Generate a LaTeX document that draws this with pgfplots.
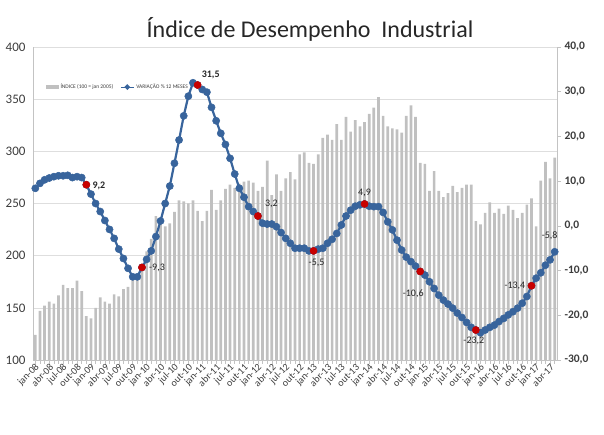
\documentclass[border=0pt]{standalone}
\usepackage{pgfplots}
\pgfplotsset{compat=1.18}
\usepackage{pgfplotstable}
\usepackage{fontspec}
\setmainfont{Carlito}
\definecolor{barg}{RGB}{192,192,192}
\definecolor{lblue}{RGB}{56,100,156}
\definecolor{dred}{RGB}{200,0,0}
\definecolor{gridg}{RGB}{222,222,222}
\definecolor{axg}{RGB}{195,195,195}
\definecolor{txt}{RGB}{60,60,60}

\pgfplotstableread{
x idx var
0 124 8.4
1 147 9.5
2 152 10.3
3 156 10.7
4 154 11.0
5 162 11.2
6 172 11.2
7 169 11.3
8 169 10.8
9 176 11.0
10 166 10.8
11 142 9.2
12 140 7.1
13 150 5.0
14 160 3.2
15 156 1.2
16 154 -0.8
17 163 -2.8
18 161 -5.2
19 168 -7.3
20 170 -9.5
21 178 -11.4
22 182 -11.4
23 190 -9.3
24 204 -7.5
25 216 -5.6
26 238 -2.4
27 231 1.1
28 228 5.0
29 231 8.9
30 242 14.0
31 253 19.2
32 252 24.6
33 250 29.0
34 253 32.0
35 243 31.5
36 233 30.5
37 243 29.9
38 263 26.5
39 244 23.5
40 253 20.7
41 264 18.2
42 268 15.1
43 265 11.6
44 269 8.4
45 271 6.4
46 272 4.3
47 270 3.2
48 262 2.2
49 266 0.6
50 291 0.4
51 258 0.4
52 278 -0.2
53 262 -1.5
54 274 -2.8
55 280 -3.9
56 273 -5.0
57 297 -5.0
58 299 -5.0
59 289 -5.6
60 288 -5.6
61 297 -5.2
62 313 -5.0
63 316 -3.9
64 311 -3.0
65 326 -1.7
66 311 0.2
67 333 2.2
68 319 3.5
69 330 4.4
70 324 4.7
71 328 4.9
72 336 4.4
73 342 4.3
74 352 4.3
75 334 3.0
76 324 0.9
77 322 -0.9
78 321 -3.2
79 318 -5.4
80 334 -7.0
81 344 -8.0
82 333 -9.0
83 289 -10.2
84 288 -11.0
85 262 -12.5
86 281 -14.0
87 262 -15.5
88 256 -16.6
89 260 -17.5
90 267 -18.4
91 261 -19.5
92 265 -20.5
93 268 -21.6
94 268 -22.7
95 233 -23.3
96 230 -23.9
97 241 -23.3
98 251 -22.7
99 241 -22.2
100 245 -21.4
101 240 -20.7
102 248 -19.9
103 244 -19.2
104 236 -18.4
105 241 -17.3
106 249 -15.8
107 255 -13.4
108 228 -11.7
109 272 -10.5
110 290 -8.8
111 274 -7.6
112 294 -5.8
}\data

\pgfplotstableread{
x var
11 9.2
23 -9.3
35 31.5
48 2.2
60 -5.6
71 4.9
83 -10.2
95 -23.3
107 -13.4
}\reddata

\begin{document}
\begin{tikzpicture}
\useasboundingbox (-33pt,-75pt) rectangle (571pt,360pt);
\begin{axis}[
  scale only axis, width=524pt, height=313pt,
  xmin=-0.5, xmax=112.5, ymin=100, ymax=400,
  ytick={100,150,...,400},
  ymajorgrids, grid style={gridg, line width=0.6pt},
  axis x line*=bottom, axis y line*=left,
  axis line style={axg, line width=0.6pt},
  /pgf/number format/assume math mode=true,
  y tick label style={font=\fontsize{13}{13}\selectfont, color=txt},
  xtick={0,3,...,111},
  xticklabels={jan-08,abr-08,jul-08,out-08,jan-09,abr-09,jul-09,out-09,jan-10,abr-10,jul-10,out-10,jan-11,abr-11,jul-11,out-11,jan-12,abr-12,jul-12,out-12,jan-13,abr-13,jul-13,out-13,jan-14,abr-14,jul-14,out-14,jan-15,abr-15,jul-15,out-15,jan-16,abr-16,jul-16,out-16,jan-17,abr-17},
  x tick label style={rotate=45, anchor=east, font=\fontsize{10}{10}\selectfont, color=txt, inner sep=0.5pt, yshift=-3pt, xshift=1pt},
  minor xtick={0,...,112},
  tick style={axg, line width=0.5pt},
  tick align=outside, major tick length=4pt, minor tick length=4pt,
  ytick style={draw=none},
]
\addplot[ybar, bar width=0.58, fill=barg, draw=none] table[x=x, y=idx]{\data};
\end{axis}
\begin{axis}[
  scale only axis, width=524pt, height=313pt,
  xmin=-0.5, xmax=112.5, ymin=-30, ymax=40,
  hide x axis,
  axis y line*=right,
  axis line style={axg, line width=0.6pt},
  ytick={-30,-20,...,40},
  yticklabels={\textbf{-30,0},\textbf{-20,0},\textbf{-10,0},\textbf{0,0},\textbf{10,0},\textbf{20,0},\textbf{30,0},\textbf{40,0}},
  y tick label style={font=\fontsize{11.5}{11.5}\selectfont, color=txt},
  tick style={axg, line width=0.5pt}, tick align=outside, major tick length=4pt,
  legend style={at={(0.019,0.872)}, anchor=west, draw=none, fill=none,
    font=\fontsize{5.5}{5.5}\selectfont, text=txt, legend columns=2,
    /tikz/every even column/.append style={column sep=5pt}},
  legend cell align=left,
]
\addlegendimage{legend image code/.code={\fill[barg] (0pt,-1.6pt) rectangle (12pt,1.6pt);}}
\addlegendentry{ÍNDICE (100 = jan 2005)}
\addplot[lblue, line width=2.2pt, mark=*, mark size=3.6pt, mark options={fill=lblue, draw=lblue, line width=0.5pt},
  legend image code/.code={\draw[lblue, line width=1pt] (0pt,0pt) -- (13pt,0pt); \fill[lblue] (6.5pt,0pt) circle (1.4pt);}]
  table[x=x, y=var]{\data};
\addlegendentry{VARIAÇÃO \% 12 MESES}
\addplot[only marks, mark=*, mark size=3.6pt, mark options={fill=dred, draw=dred}, forget plot] table[x=x, y=var]{\reddata};
\begin{scope}[every node/.style={font=\fontsize{10}{10}\selectfont, text=black!85, inner sep=1pt}]
\node[anchor=west, xshift=5pt, yshift=-1pt] at (axis cs:11,9.2) {\textbf{9,2}};
\node[anchor=west, xshift=6pt] at (axis cs:23,-9.3) {-9,3};
\node[anchor=west, xshift=3pt, yshift=10pt] at (axis cs:35,31.5) {\textbf{31,5}};
\node[anchor=west, xshift=6pt, yshift=12pt] at (axis cs:48,2.2) {3,2};
\node[anchor=north, xshift=3pt, yshift=-7pt] at (axis cs:60,-5.6) {-5,5};
\node[anchor=south, yshift=6pt] at (axis cs:71,4.9) {4,9};
\node[anchor=north, xshift=-7pt, yshift=-17pt] at (axis cs:83,-10.2) {-10,6};
\node[anchor=north, xshift=-2pt, yshift=-6pt] at (axis cs:95,-23.3) {-23,2};
\node[anchor=east, xshift=-5pt] at (axis cs:107,-13.4) {-13,4};
\node[anchor=south, xshift=-5pt, yshift=11pt] at (axis cs:112,-5.8) {-5,8};
\end{scope}
\end{axis}
\node[font=\fontsize{24}{24}\selectfont, text=black!85] at (277pt,331pt) {Índice de Desempenho\ \ Industrial};
\end{tikzpicture}
\end{document}
